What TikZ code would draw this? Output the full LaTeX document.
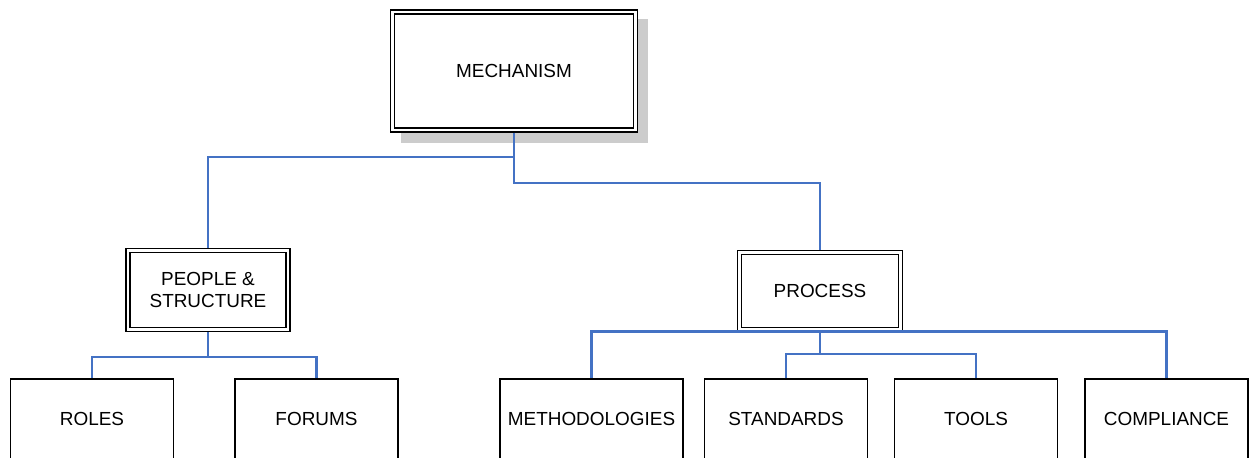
\documentclass[tikz,border=0pt]{standalone}
\usepackage{fontspec}
\setmainfont{Liberation Sans}
\usetikzlibrary{backgrounds}
\definecolor{linkblue}{RGB}{68,114,196}
\definecolor{shadowgray}{RGB}{204,204,204}

\begin{document}
% units: 1 = one pixel (0.75pt), y grows downwards
\begin{tikzpicture}[x=0.75pt,y=-0.75pt,
  every node/.style={font=\fontsize{14.2}{17.2}\selectfont, inner sep=0pt, align=center},
  framebox/.style={rectangle, draw=black, line width=1.1pt, double=white,
    double distance=1.9pt, fill=white, outer sep=2.05pt},
  leafbox/.style={rectangle, draw=black, line width=1.2pt, fill=white,
    minimum width=122.25pt, minimum height=60pt, outer sep=0.6pt},
  link/.style={draw=linkblue, line width=1.75pt}
]
\path[use as bounding box, clip] (0,0) rectangle (1251,457);

% root and the two branches
\node[framebox, minimum width=181.95pt, minimum height=88.5pt] (mech) at (514,71) {MECHANISM};
\node[framebox, minimum width=120pt, minimum height=59pt] (people) at (208,290) {PEOPLE \&\\STRUCTURE};
\node[framebox, minimum width=120.75pt, minimum height=58.1pt] (process) at (820,291) {PROCESS};

% leaves
\node[leafbox] (roles) at (92,419) {ROLES};
\node[leafbox] (forums) at (316.5,419) {FORUMS};
\node[leafbox, minimum width=137.25pt] (meth) at (591.5,419) {METHODOLOGIES};
\node[leafbox] (std) at (786,419) {STANDARDS};
\node[leafbox] (tools) at (976,419) {TOOLS};
\node[leafbox] (comp) at (1166.5,419) {COMPLIANCE};

% drop shadow of the root box
\begin{scope}[on background layer]
  \fill[shadowgray] ([shift={(11,10.5)}]mech.south west) rectangle ([shift={(10,10)}]mech.north east);
\end{scope}

% junction points
\coordinate (j1) at (514,157);
\coordinate (j2) at (514,183);
\coordinate (j3) at (208,357);
\coordinate (j4) at (820,331.5);
\coordinate (j5) at (820,354);

% connectors
\draw[link] (mech.south) -- (j1) -| (people.north);
\draw[link] (j1) -- (j2) -| (process.north);
\draw[link] (people.south) -- (j3) -| (roles.north);
\draw[link] (j3) -| (forums.north);
\draw[link] (meth.north) |- (j4) -| (comp.north);
\draw[link] (process.south) -- (j5);
\draw[link] (std.north) |- (j5) -| (tools.north);
\end{tikzpicture}
\end{document}
